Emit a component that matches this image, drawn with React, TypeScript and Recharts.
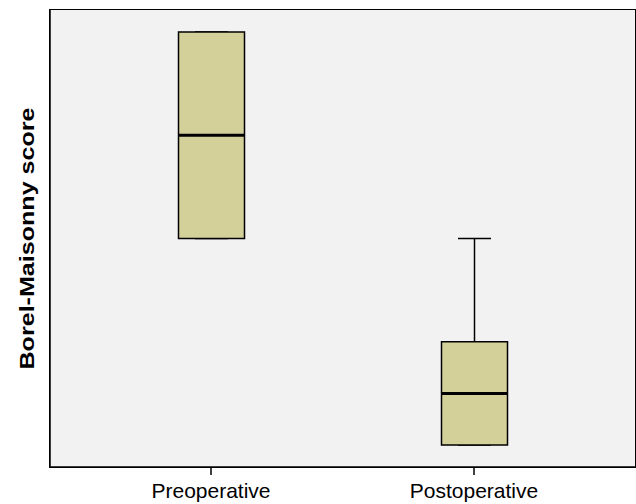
import { ComposedChart, Bar, XAxis, YAxis, CartesianGrid } from "recharts"

// Box plot values
const groups = ["Preoperative", "Postoperative"]
const mins = [3, 1]
const q1s = [3, 1]
const medians = [4, 1.5]
const q3s = [5, 2]
const maxs = [5, 3]

const Y_DOMAIN = [0.787, 5.213]

const data = groups.map((name, i) => ({
  name,
  range: [mins[i], maxs[i]],
  min: mins[i],
  q1: q1s[i],
  median: medians[i],
  q3: q3s[i],
  max: maxs[i],
}))

const BOX_FILL = "#d4d09a"

function BoxShape(props: any) {
  const { x, y, width, height, payload } = props
  const top = Math.min(y, y + height)
  const h = Math.abs(height)
  const { min, max, q1, median, q3 } = payload
  // map a value to pixels inside the [min, max] span the bar already got from the y scale
  const py = (v: number) => (max === min ? top : top + (h * (max - v)) / (max - min))
  const cx = x + width / 2
  const capHalf = width / 4
  const yMax = py(max)
  const yMin = py(min)
  const yQ1 = py(q1)
  const yQ3 = py(q3)
  const yMed = py(median)
  return (
    <g>
      <line x1={cx} x2={cx} y1={yMax} y2={yQ3} stroke="#000" strokeWidth={1.5} />
      <line x1={cx} x2={cx} y1={yQ1} y2={yMin} stroke="#000" strokeWidth={1.5} />
      <line x1={cx - capHalf} x2={cx + capHalf} y1={yMax} y2={yMax} stroke="#000" strokeWidth={1.5} />
      <line x1={cx - capHalf} x2={cx + capHalf} y1={yMin} y2={yMin} stroke="#000" strokeWidth={1.5} />
      <rect x={x} y={yQ3} width={width} height={yQ1 - yQ3} fill={BOX_FILL} stroke="#000" strokeWidth={1.5} />
      <line x1={x} x2={x + width} y1={yMed} y2={yMed} stroke="#000" strokeWidth={3} />
    </g>
  )
}

function YLabel(props: any) {
  const { viewBox } = props
  const cx = viewBox.x + 26
  const cy = viewBox.y + viewBox.height / 2
  return (
    <text
      x={cx}
      y={cy}
      transform={`rotate(-90, ${cx}, ${cy})`}
      textAnchor="middle"
      dominantBaseline="central"
      fontSize={21}
      fontWeight="bold"
      fill="#000"
      textLength={262}
      lengthAdjust="spacingAndGlyphs"
    >
      Borel-Maisonny score
    </text>
  )
}

export default function App() {
  return (
    <div style={{ position: "absolute", left: 0, top: 0, width: 636, height: 504, background: "#fff" }}>
      <ComposedChart
        width={636}
        height={504}
        data={data}
        margin={{ top: 10, right: 1, left: 0, bottom: 0 }}
        style={{ fontFamily: "Arial, 'Liberation Sans', sans-serif" }}
      >
        <CartesianGrid fill="#f2f2f2" horizontal={false} vertical={false} />
        <XAxis
          dataKey="name"
          height={37}
          padding={{ left: 29.5, right: 29.5 }}
          axisLine={{ stroke: "#000", strokeWidth: 1.5 }}
          tickLine={{ stroke: "#000", strokeWidth: 1.5 }}
          tickSize={8}
          tickMargin={8}
          tick={{ fill: "#000", fontSize: 21 }}
        />
        <YAxis
          width={50}
          domain={Y_DOMAIN}
          tick={false}
          tickLine={false}
          axisLine={{ stroke: "#000", strokeWidth: 1.5 }}
          label={<YLabel />}
        />
        <Bar dataKey="range" barSize={66} shape={<BoxShape />} isAnimationActive={false} />
      </ComposedChart>
      {/* plot frame */}
      <div
        style={{
          position: "absolute",
          left: 49.25,
          top: 9.25,
          width: 586.5,
          height: 458.5,
          boxSizing: "border-box",
          border: "1.5px solid #000",
          pointerEvents: "none",
        }}
      />
    </div>
  )
}
